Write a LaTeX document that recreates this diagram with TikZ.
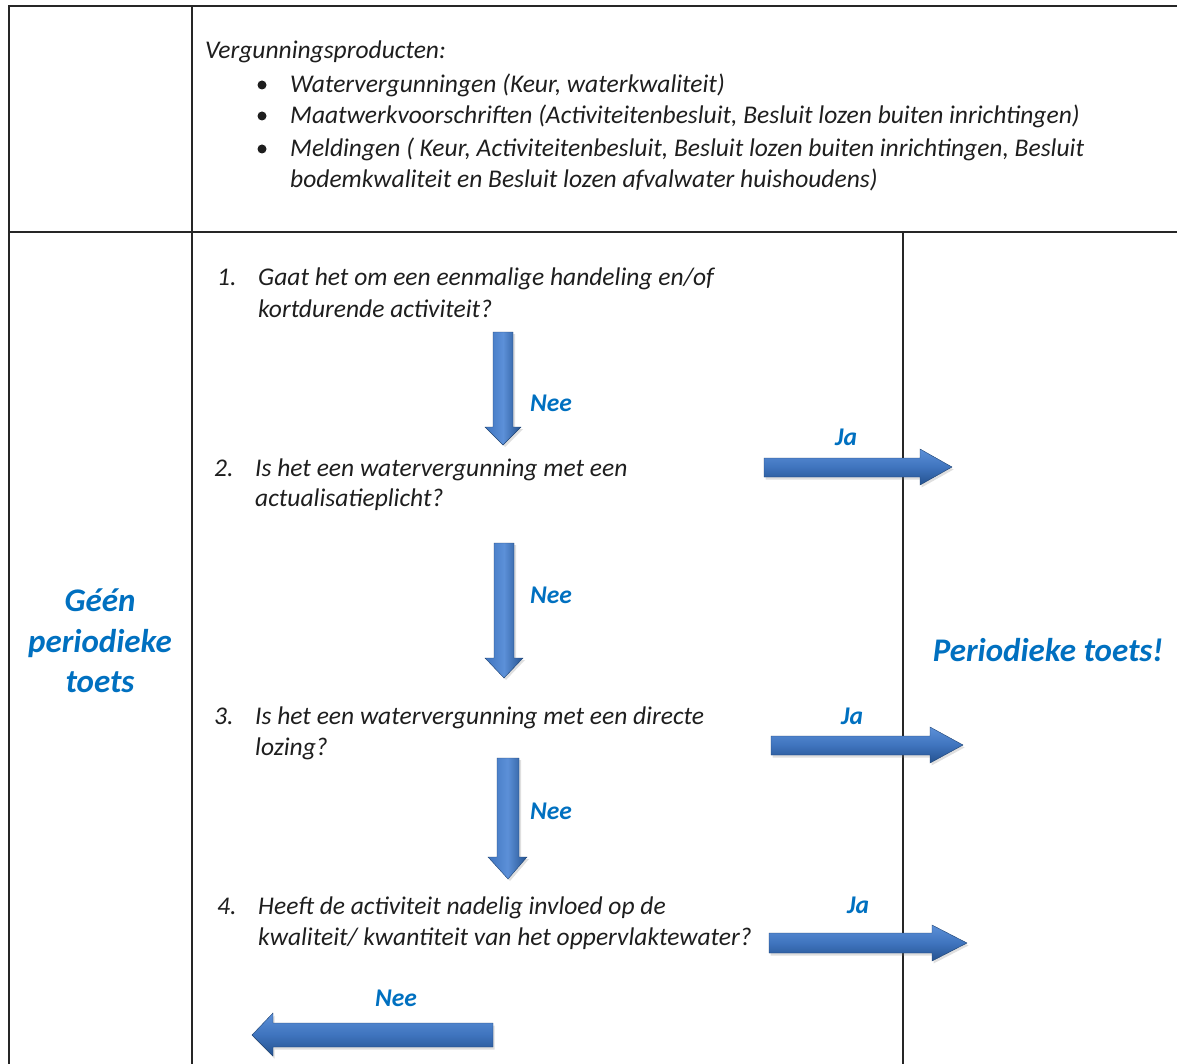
\documentclass[tikz,border=0pt]{standalone}
\usepackage{fontspec}
\setmainfont{Carlito}
\usetikzlibrary{shadows}
\definecolor{wblue}{HTML}{0070C0}
\definecolor{txt}{HTML}{1E1E1E}
\definecolor{arL}{HTML}{5C90D8}
\definecolor{arM}{HTML}{3F74BE}
\definecolor{arD}{HTML}{24528F}
\tikzset{
  frame/.style={line width=1.8pt, draw=black!85},
  body/.style={anchor=base west, inner sep=0pt, text=txt, font=\fontsize{25.5}{31}\selectfont\itshape},
  lab/.style={inner sep=0pt, text=wblue, font=\fontsize{25.5}{31}\selectfont\bfseries\itshape},
  big/.style={inner sep=0pt, text=wblue, align=center, font=\fontsize{33}{40.5}\selectfont\bfseries\itshape},
  harrow/.style={top color=arL, bottom color=arD, middle color=arM, draw=arD!80!black, line width=0.4pt,
     drop shadow={opacity=0.25, shadow xshift=1.5pt, shadow yshift=-2.5pt}},
  varrow/.style={left color=arM, right color=arD, middle color=arL, draw=arD!80!black, line width=0.4pt,
     drop shadow={opacity=0.25, shadow xshift=2pt, shadow yshift=-2pt}},
  bul/.style={circle, fill=txt, inner sep=0pt, minimum size=9pt},
}
\begin{document}
\begin{tikzpicture}[x=1pt,y=-1pt]
\useasboundingbox (0,0) rectangle (1177,1064);
\begin{scope}
\clip (0,0) rectangle (1177,1064);
% frame
\coordinate (tl) at (9,6);
\coordinate (tr) at (1180,6);
\coordinate (bl) at (9,1070);
\coordinate (ct) at (192,6);
\coordinate (cb) at (192,1070);
\coordinate (ml) at (9,232);
\coordinate (mr) at (1180,232);
\coordinate (rt) at (903,232);
\coordinate (rb) at (903,1070);
\draw[frame] (tr) -- (tl) -- (bl);
\draw[frame] (ct) -- (cb);
\draw[frame] (ml) -- (mr);
\draw[frame] (rt) -- (rb);
\end{scope}

% top cell
\node[body] (vp) at (205,59) {Vergunningsproducten:};
\node[bul] (b1) at (262,85) {};
\node[bul] (b2) at (262,116) {};
\node[bul] (b3) at (262,149) {};
\node[body] (l1) at (290,93) {Watervergunningen (Keur, waterkwaliteit)};
\node[body] (l2) at (290,124) {Maatwerkvoorschriften (Activiteitenbesluit, Besluit lozen buiten inrichtingen)};
\node[body] (l3) at (290,157) {Meldingen ( Keur, Activiteitenbesluit, Besluit lozen buiten inrichtingen, Besluit};
\node[body] (l4) at (290,188) {bodemkwaliteit en Besluit lozen afvalwater huishoudens)};

% questions
\node[body] (n1) at (217,286) {1.};
\node[body] (q1a) at (258,286) {Gaat het om een eenmalige handeling en/of};
\node[body] (q1b) at (258,317) {kortdurende activiteit?};
\node[body] (n2) at (214,476) {2.};
\node[body] (q2a) at (255,476) {Is het een watervergunning met een};
\node[body] (q2b) at (255,506) {actualisatieplicht?};
\node[body] (n3) at (214,724) {3.};
\node[body] (q3a) at (255,724) {Is het een watervergunning met een directe};
\node[body] (q3b) at (255,755) {lozing?};
\node[body] (n4) at (217,914) {4.};
\node[body] (q4a) at (258,914) {Heeft de activiteit nadelig invloed op de};
\node[body] (q4b) at (258,945) {kwaliteit/ kwantiteit van het oppervlaktewater?};

% outcomes
\node[big] (geen) at (100,641) {Géén\\periodieke\\toets};
\node[big] (per) at (1048,650) {Periodieke toets!};

% down arrows
\path[varrow] (493,332) -- (513,332) -- (513,427) -- (521,427) -- (503,445) -- (485,427) -- (493,427) -- cycle;
\path[varrow] (494,543) -- (514,543) -- (514,658) -- (523,658) -- (504,678) -- (485,658) -- (494,658) -- cycle;
\path[varrow] (497,758) -- (519,758) -- (519,857) -- (527,857) -- (508,879) -- (488,857) -- (497,857) -- cycle;
% right arrows
\path[harrow] (764,458) -- (920,458) -- (920,449) -- (952,467) -- (920,485) -- (920,477) -- (764,477) -- cycle;
\path[harrow] (771,736) -- (930,736) -- (930,727) -- (963,745) -- (930,763) -- (930,755) -- (771,755) -- cycle;
\path[harrow] (769,933) -- (932,933) -- (932,925) -- (967,943) -- (932,961) -- (932,953) -- (769,953) -- cycle;
% left arrow
\path[harrow] (493,1023) -- (273,1023) -- (273,1013) -- (252,1035) -- (273,1056) -- (273,1047) -- (493,1047) -- cycle;

% labels
\node[lab] (nee1) at (551,403) {Nee};
\node[lab] (nee2) at (551,595) {Nee};
\node[lab] (nee3) at (551,811) {Nee};
\node[lab] (nee4) at (396,998) {Nee};
\node[lab] (ja1) at (846,437) {Ja};
\node[lab] (ja2) at (852,716) {Ja};
\node[lab] (ja3) at (858,905) {Ja};
\end{tikzpicture}
\end{document}
